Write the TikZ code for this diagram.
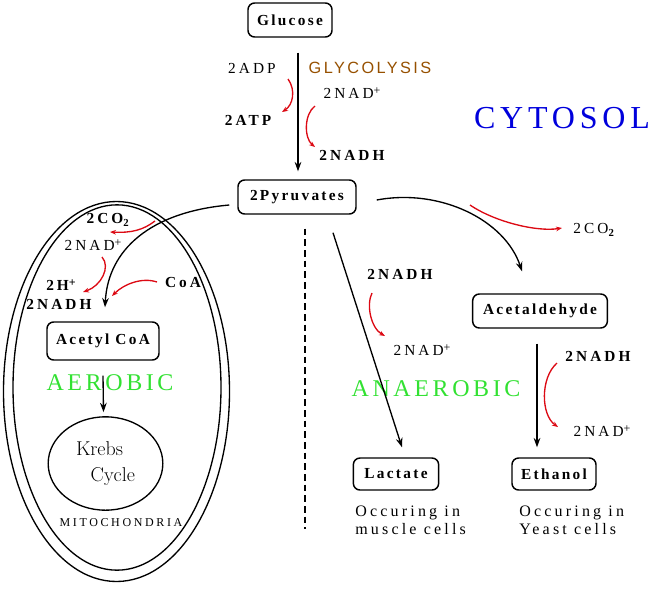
\documentclass[tikz,border=0pt]{standalone}
\usepackage{fontspec}
\newfontfamily\lblfont{Liberation Serif}[LetterSpace=20]
\newfontfamily\boxfont{Liberation Serif}[LetterSpace=15]
\newfontfamily\smallfont{Liberation Serif}[LetterSpace=22]
\newfontfamily\glyfont{Liberation Sans}[LetterSpace=15]
\usetikzlibrary{arrows.meta, positioning, calc, shapes.geometric}

\definecolor{glybrown}{RGB}{150,80,0}
\definecolor{aerogreen}{RGB}{50,225,50}
\definecolor{cytoblue}{RGB}{0,0,220}
\definecolor{redarc}{RGB}{220,10,20}

\newcommand{\plusup}{\raisebox{0.55ex}{\small +}}

\begin{document}
\begin{tikzpicture}[x=0.75pt, y=-0.75pt,
  every node/.style={inner sep=1pt},
  box/.style={rectangle, rounded corners=5pt, draw, line width=1.1pt,
    minimum height=25.5pt, font=\boxfont\bfseries\fontsize{11.5}{13}\selectfont},
  lbl/.style={font=\lblfont\fontsize{11.5}{13}\selectfont},
  blbl/.style={font=\lblfont\bfseries\fontsize{11.5}{13}\selectfont},
  zone/.style={font=\boxfont\fontsize{18}{20}\selectfont, text=aerogreen},
  note/.style={font=\lblfont\fontsize{12}{13.5}\selectfont, align=left, anchor=west,
    inner sep=0pt},
  membrane/.style={ellipse, draw, line width=1pt, inner sep=0pt},
  arr/.style={-{Stealth[length=7pt, width=5pt]}, line width=1pt},
  redarr/.style={-{Stealth[length=4.5pt, width=3.5pt]}, redarc, line width=1pt}
]
\path[use as bounding box] (0,0) rectangle (660,590);

% ---- GLYCOLYSIS ----
\node[box, minimum width=63pt] (glucose) at (290,20) {Glucose};
\node[box, minimum width=88.5pt] (pyruvate) at (297,197) {2Pyruvates};
\draw[arr, line width=0.8pt] ($(glucose.south)+(8,15)$) -- ($(pyruvate.north)+(1,-8)$);

\node[lbl] (adp) at (252,68) {2ADP};
\node[blbl] (atp) at (248,120) {2ATP};
\node[lbl] (nadp1) at (352,93) {2NAD\plusup};
\node[blbl] (nadh1) at (352,155) {2NADH};
\node[font=\glyfont\fontsize{12.2}{14}\selectfont, text=glybrown] (glyco) at (370,68) {GLYCOLYSIS};
\node[font=\boxfont\fontsize{24}{26}\selectfont, text=cytoblue] (cytosol) at (562,118) {CYTOSOL};
\draw[redarr] ($(adp)+(36,11)$) .. controls +(8,11) and +(11,-7) .. ($(atp)+(34,-8)$);
\draw[redarr] ($(nadp1)+(-37,13)$) .. controls +(-11,8) and +(-11,-9) .. ($(nadh1)+(-37,-8)$);

% ---- MITOCHONDRIA (aerobic) ----
\node[membrane, minimum width=169.5pt, minimum height=285pt] (mitoout) at (116.5,391.5) {};
\node[membrane, minimum width=156pt, minimum height=274pt] (mitoin) at (117,387.5) {};
\node[box, minimum width=84pt, minimum height=28.5pt] (acetylcoa) at (103,341) {Acetyl CoA};
\node[membrane, minimum width=86pt, minimum height=70pt, align=left,
  font=\fontsize{15}{19}\selectfont] (krebs) at (105.5,463.5) {Krebs\\\hspace*{11pt}Cycle};
\node[font=\smallfont\fontsize{9}{11}\selectfont] (mito) at (121,523) {MITOCHONDRIA};
\node[zone] (aerobic) at (110,383) {AEROBIC};

\node[blbl] (co2a) at (108,220) {2CO\textsubscript{2}};
\node[lbl] (nadp2) at (93,245) {2NAD\plusup};
\node[blbl] (h2) at (61,285) {2H\plusup};
\node[blbl] (nadh2) at (59,304) {2NADH};
\node[blbl] (coa) at (183,282) {CoA};

\draw[arr] ($(pyruvate.west)+(-8,8)$) .. controls (150,212) and (108,250) .. ($(acetylcoa.north)+(2,-14)$);
\draw[arr] ($(acetylcoa.south)+(0,15)$) -- ($(krebs.north)+(-2,-4)$);
\draw[redarr] ($(co2a)+(47,1)$) .. controls +(-12,9) and +(22,1) .. ($(co2a)+(2,12)$);
\draw[redarr] ($(nadp2)+(9,12)$) .. controls +(9,10) and +(18,-6) .. ($(h2)+(22,7)$);
\draw[redarr] ($(coa)+(-26,0)$) .. controls +(-15,-5) and +(12,-12) .. ($(coa)+(-71,14)$);

% ---- DIVIDER ----
\draw[line width=1pt, dash pattern=on 5pt off 3pt] ($(pyruvate.south)+(8,14)$) -- ++(0,300);

% ---- ANAEROBIC ----
\node[box, minimum width=101pt] (acetald) at (540,311) {Acetaldehyde};
\node[box, minimum width=64pt, minimum height=24pt] (lactate) at (396,474) {Lactate};
\node[box, minimum width=63pt, minimum height=24pt] (ethanol) at (554,474) {Ethanol};
\node[zone] (anaerobic) at (436,389) {ANAEROBIC};

\node[lbl] (co2b) at (594,230) {2CO\textsubscript{\bfseries 2}};
\node[blbl] (nadh3) at (400,274) {2NADH};
\node[lbl] (nadp3) at (422,350) {2NAD\plusup};
\node[blbl] (nadh4) at (598,356) {2NADH};
\node[lbl] (nadp4) at (602,431) {2NAD\plusup};

\draw[arr] ($(pyruvate.east)+(20,3)$) .. controls (440,188) and (505,220) .. ($(acetald.north)+(-18,-22)$);
\draw[arr] ($(pyruvate.south)+(36,18)$) -- ($(lactate.north)+(6,-10)$);
\draw[arr] ($(acetald.south)+(-3,15)$) -- ($(ethanol.north)+(-17,-10)$);
\draw[redarr] ($(co2b)+(-124,-25)$) .. controls +(25,17) and +(-25,4) .. ($(co2b)+(-32,-2)$);
\draw[redarr] ($(nadh3)+(-28,19)$) .. controls +(-6,12) and +(-14,-8) .. ($(nadp3)+(-37,-14)$);
\draw[redarr] ($(nadh4)+(-41,7)$) .. controls +(-17,15) and +(-17,-12) .. ($(nadp4)+(-44,-4)$);

\node[note] (muscle) at (355,520) {Occuring in\\muscle cells};
\node[note] (yeast) at (519,520) {Occuring in\\Yeast cells};
\end{tikzpicture}
\end{document}
